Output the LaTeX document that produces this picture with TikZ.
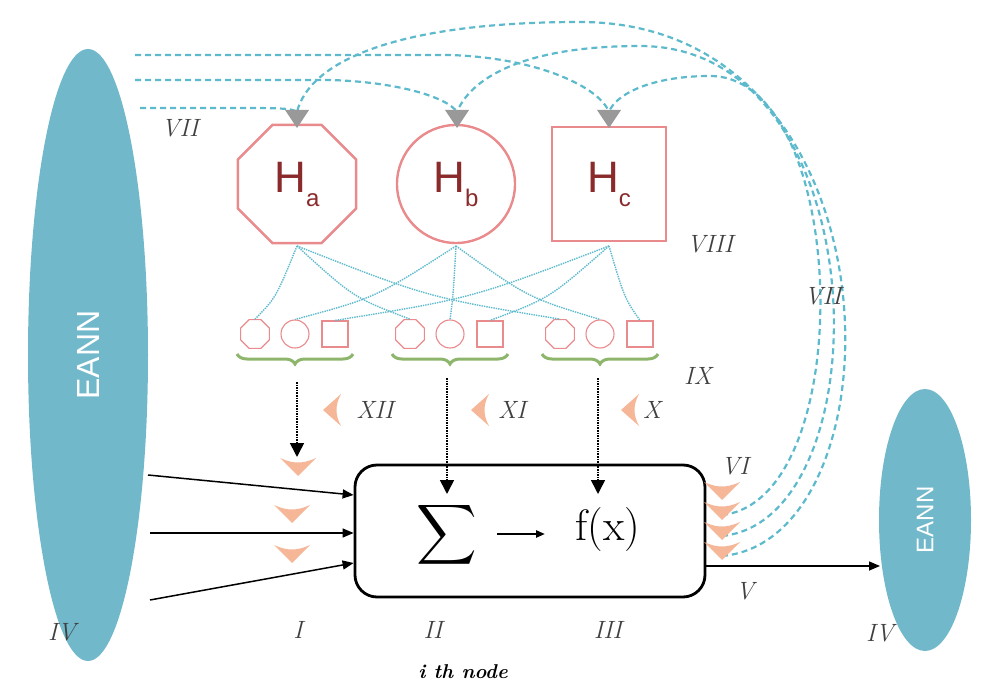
\documentclass[tikz,border=0pt]{standalone}
\usepackage{fontspec}
\usepackage{graphicx}
\newfontfamily\hf{Liberation Sans}
\usetikzlibrary{shapes.geometric,arrows.meta,decorations.pathreplacing,calc}
\definecolor{eann}{HTML}{72B8CB}
\definecolor{dashc}{HTML}{5DB9CC}
\definecolor{pinkl}{HTML}{E98A8C}
\definecolor{htxt}{HTML}{8A2A2A}
\definecolor{grn}{HTML}{8DB56C}
\definecolor{peach}{HTML}{F5B797}
\begin{document}
\begin{tikzpicture}[x=1pt,y=-1pt,
  lab/.style={font=\itshape\fontsize{25}{27}\selectfont,text=black!75},
  bigh/.style={draw=pinkl,line width=2.4pt,minimum size=112pt,inner sep=0pt,text=htxt,font=\hf\fontsize{44}{46}\selectfont},
  sm/.style={draw=pinkl,line width=1.1pt,minimum size=26pt,inner sep=0pt},
  bl/.style={draw=dashc,line width=2.2pt,dash pattern=on 6pt off 4pt},
  dt/.style={draw=dashc,densely dotted,line width=1.4pt},
  brc/.style={draw=grn,line width=3pt,decorate,decoration={brace,amplitude=10pt,mirror}},
  arr/.style={-{Triangle[length=11pt,width=9pt]},line width=1.5pt},
  darr/.style={-{Triangle[length=14pt,width=14pt]},line width=1.6pt,densely dotted},
  pd/.pic={\fill[peach] (-18,-8) .. controls (-5,-2) and (5,-2) .. (18,-8) -- (0,10) -- cycle;},
  pl/.pic={\fill[peach] (8,-16) .. controls (2,-5) and (2,5) .. (8,16) -- (-10,0) -- cycle;},
  gt/.pic={\fill[gray!80] (-12,-10) -- (12,-10) -- (0,8) -- cycle;}]
\useasboundingbox (0,0) rectangle (983,695);
% ellipses
\node[ellipse,fill=eann,minimum width=120pt,minimum height=612pt,inner sep=0pt] (E1) at (88,355) {};
\node[rotate=90,text=white,font=\hf\fontsize{32}{34}\selectfont] at (E1) {EANN};
\node[ellipse,fill=eann,minimum width=92pt,minimum height=262pt,inner sep=0pt] (E2) at (925,520) {};
\node[rotate=90,text=white,font=\hf\fontsize{24}{26}\selectfont] at (E2) {EANN};
% main box
\node[draw,line width=2.8pt,rounded corners=22pt,minimum width=350pt,minimum height=132pt] (box) at (530,531) {};
\node (sig) at (447,535) {\scalebox{4.2}{$\displaystyle\sum$}};
\node[font=\fontsize{44}{44}\selectfont] (fx) at (608,530) {f(x)};
\coordinate (a1) at (497,534); \coordinate (a2) at (545,534);
\draw[-{Triangle[length=9pt,width=7pt]},line width=2.2pt] (a1) -- (a2);
% H nodes
\node[bigh,regular polygon,regular polygon sides=8,minimum size=128pt] (Ha) at (297,184) {H\raisebox{-14pt}{\fontsize{24}{24}\selectfont a}};
\node[bigh,circle,minimum size=118pt] (Hb) at (456,184) {H\raisebox{-14pt}{\fontsize{24}{24}\selectfont b}};
\node[bigh,rectangle,minimum size=114pt] (Hc) at (609,184) {H\raisebox{-14pt}{\fontsize{24}{24}\selectfont c}};
% small shapes
\foreach \g/\x in {1/255,2/410,3/560}{
  \node[sm,regular polygon,regular polygon sides=8,minimum size=31pt] (o\g) at (\x,334) {};
  \node[sm,circle,minimum size=28pt] (c\g) at (\x+40,334) {};
  \node[sm,rectangle] (s\g) at (\x+80,334) {};
  \draw[brc] (\x-18,354) -- (\x+98,354);
}
\coordinate (Hab) at (297,246); \coordinate (Hbb) at (456,246); \coordinate (Hcb) at (609,246);
\foreach \g in {1,2,3}{
  \draw[dt] (Hab) .. controls ($(Hab)!0.5!(o\g.north)+(0,15)$) .. (o\g.north);
  \draw[dt] (Hbb) .. controls ($(Hbb)!0.5!(c\g.north)+(0,15)$) .. (c\g.north);
  \draw[dt] (Hcb) .. controls ($(Hcb)!0.5!(s\g.north)+(0,15)$) .. (s\g.north);
}
% blue dashed curves
\coordinate (ta) at (297,112); \coordinate (tb) at (457,112); \coordinate (tc) at (609,112);
\coordinate (L1) at (140,108); \coordinate (L2) at (135,80); \coordinate (L3) at (135,55);
\draw[bl] (L1) -- (235,108) .. controls (275,108) and (293,108) .. (ta);
\draw[bl] (L2) -- (330,80) .. controls (400,82) and (448,98) .. (tb);
\draw[bl] (L3) -- (450,55) .. controls (540,58) and (600,88) .. (tc);
\coordinate (R1) at (722,556); \coordinate (R2) at (722,536); \coordinate (R3) at (722,515);
\draw[bl] (R1) .. controls (905,540) and (905,22) .. (580,22) .. controls (400,22) and (310,60) .. (ta);
\draw[bl] (R2) .. controls (885,520) and (880,46) .. (640,46) .. controls (520,46) and (470,80) .. (tb);
\draw[bl] (R3) .. controls (860,500) and (850,76) .. (710,76) .. controls (650,76) and (615,95) .. (tc);
\pic at (297,120) {gt}; \pic at (457,120) {gt}; \pic at (609,120) {gt};
% inputs
\coordinate (i1) at (148,475); \coordinate (i2) at (150,533); \coordinate (i3) at (150,600);
\draw[arr] (i1) -- (box.west |- 0,495);
\draw[arr] (i2) -- (box.west |- 0,533);
\draw[arr] (i3) -- (box.west |- 0,563);
\pic at (298,466) {pd}; \pic at (292,513) {pd}; \pic at (292,553) {pd};
% output
\coordinate (o) at (880,566);
\draw[arr] (box.east |- 0,566) -- (o);
\foreach \y in {490,510,530,550} \pic at (722,\y) {pd};
% dotted vertical arrows
\coordinate (d1) at (297,382); \coordinate (d2) at (447,378); \coordinate (d3) at (598,378);
\draw[darr] (d1) -- (297,457);
\draw[darr] (d2) -- (447,494);
\draw[darr] (d3) -- (598,494);
\pic at (333,410) {pl}; \pic at (481,410) {pl}; \pic at (631,410) {pl};
% labels
\node[lab] at (375,410) {XII};
\node[lab] at (512,410) {XI};
\node[lab] at (652,410) {X};
\node[lab] at (180,128) {VII};
\node[lab] at (710,244) {VIII};
\node[lab] at (823,296) {VII};
\node[lab] at (698,376) {IX};
\node[lab] at (735,466) {VI};
\node[lab] at (745,591) {V};
\node[lab] at (62,632) {IV};
\node[lab] at (298,630) {I};
\node[lab] at (433,630) {II};
\node[lab] at (608,630) {III};
\node[lab] at (880,633) {IV};
\node[font=\bfseries\itshape\fontsize{20}{22}\selectfont] at (463,672) {i th node};
\end{tikzpicture}
\end{document}
